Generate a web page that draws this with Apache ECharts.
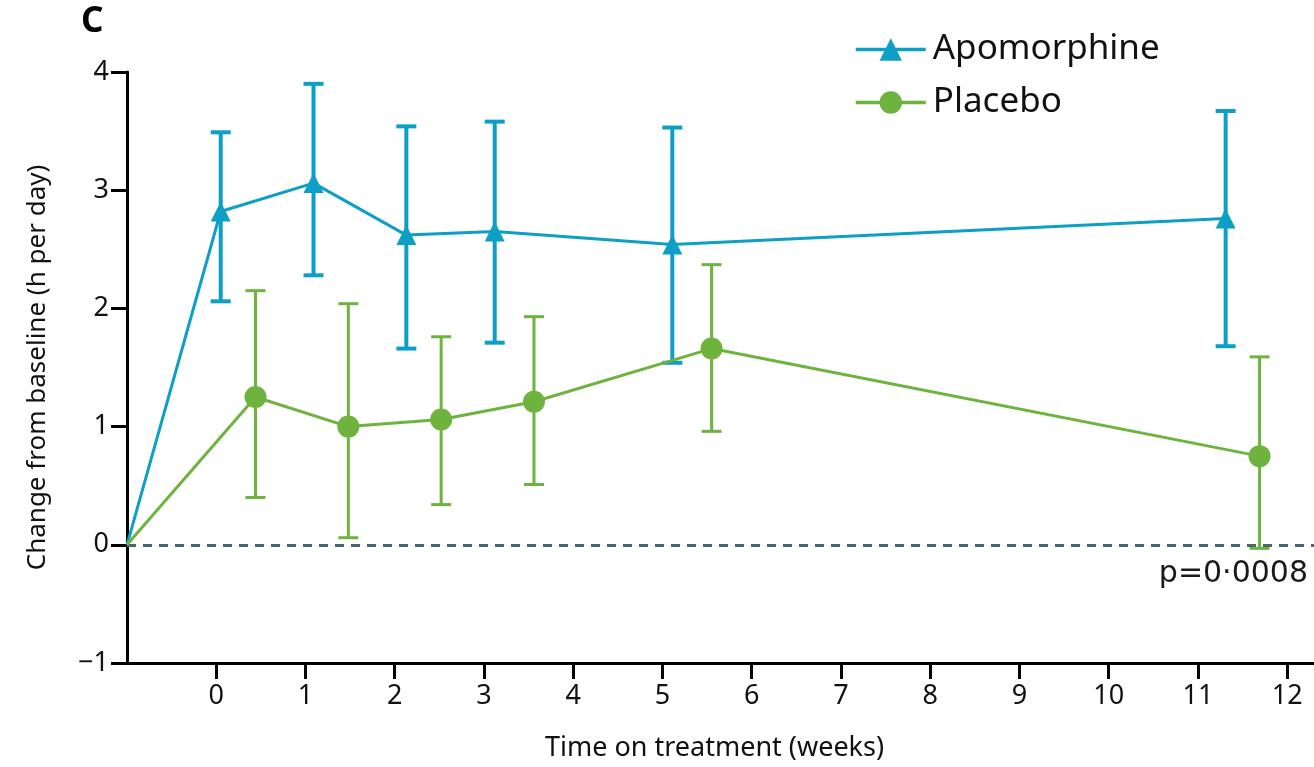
<!DOCTYPE html>
<html>
<head>
<meta charset="utf-8">
<script src="https://cdn.jsdelivr.net/npm/echarts@6/dist/echarts.min.js"></script>
<style>
html,body{margin:0;padding:0;background:#fff;}
#c{width:1314px;height:767px;}
</style>
</head>
<body>
<div id="c"></div>
<script>
// Data
const apoX   = [-1, 0.05, 1.09, 2.13, 3.12, 5.11, 11.31];
const apoY   = [0, 2.82, 3.06, 2.62, 2.65, 2.54, 2.76];
const apoLo  = [null, 2.06, 2.28, 1.66, 1.71, 1.54, 1.68];
const apoHi  = [null, 3.49, 3.90, 3.54, 3.58, 3.53, 3.67];

const plaX   = [-1, 0.44, 1.48, 2.52, 3.56, 5.55, 11.69];
const plaY   = [0, 1.25, 1.00, 1.06, 1.21, 1.66, 0.75];
const plaLo  = [null, 0.40, 0.06, 0.34, 0.51, 0.96, -0.03];
const plaHi  = [null, 2.15, 2.04, 1.76, 1.93, 2.37, 1.59];

const xTicks = [0,1,2,3,4,5,6,7,8,9,10,11,12];

const BLUE = '#0d9fc5';
const GREEN = '#6fb33f';
const FONT = 'Noto Sans';

function lineData(xs, ys){
  return xs.map((x,i)=> i===0 ? {value:[x,ys[i]], symbol:'none'} : [x, ys[i]]);
}
function errData(xs, lo, hi){
  const out=[];
  xs.forEach((x,i)=>{ if(lo[i]!==null) out.push([x, lo[i], hi[i]]); });
  return out;
}
function errRender(color, w){
  return function(params, api){
    const x = api.value(0);
    const p1 = api.coord([x, api.value(1)]);
    const p2 = api.coord([x, api.value(2)]);
    const half = 10;
    const st = {stroke: color, lineWidth: w};
    return {type:'group', children:[
      {type:'line', shape:{x1:p1[0],y1:p1[1],x2:p2[0],y2:p2[1]}, style:st},
      {type:'line', shape:{x1:p1[0]-half,y1:p1[1],x2:p1[0]+half,y2:p1[1]}, style:st},
      {type:'line', shape:{x1:p2[0]-half,y1:p2[1],x2:p2[0]+half,y2:p2[1]}, style:st}
    ]};
  };
}

const chart = echarts.init(document.getElementById('c'), null, {renderer:'canvas'});
chart.setOption({
  animation:false,
  backgroundColor:'#fff',
  textStyle:{fontFamily:FONT},
  grid:{left:127, right:-9, top:72, bottom:104, containLabel:false},
  legend:{
    orient:'vertical', left:849, top:27, itemWidth:70, itemHeight:28, itemGap:18,
    data:['Apomorphine','Placebo'],
    lineStyle:{width:3.5},
    textStyle:{fontSize:35, color:'#111', fontFamily:FONT, lineHeight:35, padding:[0,0,0,2]}
  },
  xAxis:{
    type:'value', min:-1, max:12.3,
    splitLine:{show:false},
    axisLine:{show:true, onZero:false, lineStyle:{color:'#000', width:3}},
    axisTick:{show:true, length:16, lineStyle:{color:'#000', width:3}, customValues:xTicks},
    axisLabel:{fontSize:27, color:'#111', margin:20, customValues:xTicks, fontFamily:FONT},
    name:'Time on treatment (weeks)', nameLocation:'middle', nameGap:72,
    nameTextStyle:{fontSize:27, color:'#111', fontFamily:FONT, padding:[0,12,0,0]}
  },
  yAxis:{
    type:'value', min:-1, max:4, interval:1,
    splitLine:{show:false},
    axisLine:{show:true, onZero:false, lineStyle:{color:'#000', width:3}},
    axisTick:{show:true, length:16, lineStyle:{color:'#000', width:3}},
    axisLabel:{fontSize:27, color:'#111', margin:18, fontFamily:FONT,
      formatter:v=> v<0 ? '\u2212'+Math.abs(v) : String(v)},
    name:'Change from baseline (h per day)', nameLocation:'middle', nameGap:76,
    nameTextStyle:{fontSize:26, color:'#111', fontFamily:FONT}
  },
  graphic:[
    {type:'text', left:81, top:5, style:{text:'C', fontSize:35, fontWeight:'bold', fill:'#000', fontFamily:FONT}},
    {type:'text', right:6, top:559, style:{text:'p=0\u00b70008', fontSize:30, fill:'#1a1a1a', fontFamily:'DejaVu Sans'}}
  ],
  series:[
    {
      name:'Apomorphine', type:'line', data:lineData(apoX, apoY),
      symbol:'triangle', symbolSize:20, z:5,
      lineStyle:{color:BLUE, width:3}, itemStyle:{color:BLUE},
      markLine:{
        silent:true, symbol:'none', label:{show:false},
        lineStyle:{color:'#4c6570', width:3, type:[9,7]},
        data:[{yAxis:0}]
      }
    },
    {
      name:'Placebo', type:'line', data:lineData(plaX, plaY),
      symbol:'circle', symbolSize:22, z:5,
      lineStyle:{color:GREEN, width:3}, itemStyle:{color:GREEN}
    },
    {
      type:'custom', renderItem:errRender(BLUE,4), data:errData(apoX, apoLo, apoHi),
      encode:{x:0, y:[1,2]}, z:4, silent:true
    },
    {
      type:'custom', renderItem:errRender(GREEN,3), data:errData(plaX, plaLo, plaHi),
      encode:{x:0, y:[1,2]}, z:4, silent:true
    }
  ]
});
</script>
</body>
</html>
